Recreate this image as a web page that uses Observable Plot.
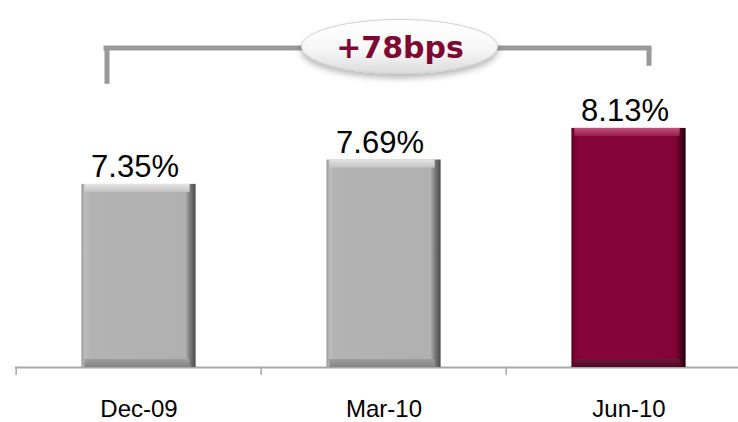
<!DOCTYPE html>
<html>
<head>
<meta charset="utf-8">
<script src="https://cdn.jsdelivr.net/npm/d3@7"></script>
<script src="https://cdn.jsdelivr.net/npm/@observablehq/plot@0.6"></script>
<style>
  html, body { margin: 0; padding: 0; background: #fff; }
  #chart { width: 738px; height: 422px; }
</style>
</head>
<body>
<svg width="0" height="0" style="position:absolute">
  <defs>
    <linearGradient id="grayFace" x1="0" x2="1" y1="0" y2="0">
      <stop offset="0" stop-color="#9a9a9a"/>
      <stop offset="0.03" stop-color="#bdbdbd"/>
      <stop offset="0.07" stop-color="#b3b3b3"/>
      <stop offset="0.91" stop-color="#b0b0b0"/>
      <stop offset="0.95" stop-color="#7c7c7c"/>
      <stop offset="1" stop-color="#4a4a4a"/>
    </linearGradient>
    <linearGradient id="grayTop" x1="0" x2="0" y1="0" y2="1">
      <stop offset="0" stop-color="#e4e4e4"/>
      <stop offset="1" stop-color="#c4c4c4"/>
    </linearGradient>
    <linearGradient id="grayBottom" x1="0" x2="0" y1="0" y2="1">
      <stop offset="0" stop-color="#9e9e9e"/>
      <stop offset="1" stop-color="#858585"/>
    </linearGradient>
    <linearGradient id="redFace" x1="0" x2="1" y1="0" y2="0">
      <stop offset="0" stop-color="#55001f"/>
      <stop offset="0.03" stop-color="#7a0333"/>
      <stop offset="0.07" stop-color="#860538"/>
      <stop offset="0.91" stop-color="#830537"/>
      <stop offset="0.95" stop-color="#5a0224"/>
      <stop offset="1" stop-color="#22000c"/>
    </linearGradient>
    <linearGradient id="redTop" x1="0" x2="0" y1="0" y2="1">
      <stop offset="0" stop-color="#c0527c"/>
      <stop offset="1" stop-color="#9a1d4c"/>
    </linearGradient>
    <linearGradient id="redBottom" x1="0" x2="0" y1="0" y2="1">
      <stop offset="0" stop-color="#6e1638"/>
      <stop offset="1" stop-color="#4e0a25"/>
    </linearGradient>
    <linearGradient id="ovalFill" x1="0" x2="0" y1="0" y2="1">
      <stop offset="0" stop-color="#ffffff"/>
      <stop offset="0.55" stop-color="#f7f7f7"/>
      <stop offset="1" stop-color="#dcdcdc"/>
    </linearGradient>
    <filter id="ovalShadow" x="-20%" y="-30%" width="140%" height="180%">
      <feDropShadow dx="0" dy="4" stdDeviation="3" flood-color="#000" flood-opacity="0.28"/>
    </filter>
  </defs>
</svg>
<div id="chart"></div>
<script>
// ---- data ----
const categories = ["Dec-09", "Mar-10", "Jun-10"];
const values = [7.35, 7.69, 8.13];
const highlighted = "Jun-10";
const changeLabel = "+78bps";

const data = categories.map((c, i) => ({category: c, value: values[i]}));
const grayBars = data.filter(d => d.category !== highlighted);
const redBars = data.filter(d => d.category === highlighted);

// ---- layout constants ----
const W = 738, H = 422;
const yMin = 4.8, yTop = 9.25;
const xRange = [15.3, 752.4];
const step = (xRange[1] - xRange[0]) / categories.length;
const barInset = 65.4;
const bevel = 8;
const bracketY = yTop;
const bracketLeftBottom = 8.71;
const bracketRightBottom = 8.96;

function barLayers(rows, face, top, bottom) {
  return [
    Plot.barY(rows, {x: "category", y1: yMin, y2: "value", fill: face,
      insetLeft: barInset, insetRight: barInset}),
    Plot.barY(rows, {x: "category", y1: "value", y2: "value", fill: top,
      insetLeft: barInset + 3, insetRight: barInset + 6, insetTop: 0, insetBottom: -bevel}),
    Plot.barY(rows, {x: "category", y1: yMin, y2: yMin, fill: bottom,
      insetLeft: barInset + 3, insetRight: barInset + 6, insetTop: -bevel, insetBottom: 0})
  ];
}

const oval = (index, scales) => {
  const ns = "http://www.w3.org/2000/svg";
  const g = document.createElementNS(ns, "g");
  const cx = scales.x("Mar-10") + scales.x.bandwidth() / 2 + 16;
  const cy = scales.y(bracketY) - 1;
  const e = document.createElementNS(ns, "ellipse");
  e.setAttribute("cx", cx);
  e.setAttribute("cy", cy);
  e.setAttribute("rx", 98);
  e.setAttribute("ry", 27);
  e.setAttribute("fill", "url(#ovalFill)");
  e.setAttribute("stroke", "#d2d2d2");
  e.setAttribute("stroke-width", 1);
  e.setAttribute("filter", "url(#ovalShadow)");
  g.appendChild(e);
  return g;
};

const chart = Plot.plot({
  width: W,
  height: H,
  marginLeft: 15,
  marginRight: 0,
  marginTop: 47,
  marginBottom: 55,
  style: {background: "#fff", fontFamily: "'Liberation Sans', Arial, sans-serif"},
  x: {domain: categories, range: xRange, padding: 0, axis: null},
  y: {domain: [yMin, yTop], range: [367, 47.5], axis: null},
  marks: [
    // axis baseline
    Plot.ruleY([yMin], {stroke: "#a8a8a8", strokeWidth: 2}),
    // tick marks at category boundaries
    Plot.axisX({tickSize: 8, tickFormat: () => "", label: null, stroke: "#a8a8a8", strokeWidth: 1.5, dx: -step / 2}),
    // category labels
    Plot.text(categories, {x: d => d, y: yMin, text: d => d, lineAnchor: "bottom", dy: 49.5,
      fontSize: 24, fill: "#000", style: {letterSpacing: "1px"}}),
    // bars
    ...barLayers(grayBars, "url(#grayFace)", "url(#grayTop)", "url(#grayBottom)"),
    ...barLayers(redBars, "url(#redFace)", "url(#redTop)", "url(#redBottom)"),
    // value labels
    Plot.text(data, {x: "category", y: "value", text: d => d.value.toFixed(2) + "%",
      lineAnchor: "bottom", dy: -7, dx: -4, fontSize: 31, fill: "#000",
      style: {letterSpacing: "1.2px"}}),
    // bracket
    Plot.ruleY([bracketY], {stroke: "#999", strokeWidth: 5, insetLeft: 88.5, insetRight: 86.5}),
    Plot.ruleX([categories[0]], {y1: bracketLeftBottom, y2: bracketY, dx: -32, stroke: "#999", strokeWidth: 5, insetTop: -2.5}),
    Plot.ruleX([categories[2]], {y1: bracketRightBottom, y2: bracketY, dx: 20, stroke: "#999", strokeWidth: 5, insetTop: -2.5}),
    // oval + label
    oval,
    Plot.text([changeLabel], {x: () => "Mar-10", y: () => bracketY, text: d => d, dx: 16,
      fontSize: 30, fontWeight: "bold", fill: "#7d0933", lineAnchor: "middle",
      fontFamily: "'DejaVu Sans', Verdana, sans-serif"})
  ]
});

document.getElementById("chart").appendChild(chart);
</script>
</body>
</html>
